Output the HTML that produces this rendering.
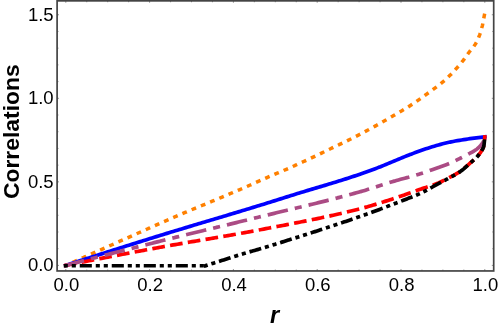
<!DOCTYPE html>
<html><head><meta charset="utf-8"><title>Correlations vs r</title>
<style>
html,body{margin:0;padding:0;background:#fff;}
body{width:498px;height:323px;overflow:hidden;font-family:"Liberation Sans",sans-serif;}
svg{display:block;will-change:transform;font-family:"Liberation Sans",sans-serif;}
</style></head><body>
<svg width="498" height="323" viewBox="0 0 498 323">
<rect x="0" y="0" width="498" height="323" fill="#ffffff"/>
<g>
<path d="M65.80,265.40 L67.90,264.46 L70.01,263.51 L72.11,262.57 L74.22,261.63 L76.32,260.69 L78.43,259.75 L80.53,258.80 L82.64,257.86 L84.74,256.92 L86.85,255.98 L88.95,255.04 L91.05,254.10 L93.16,253.16 L95.26,252.22 L97.37,251.28 L99.47,250.34 L101.58,249.40 L103.68,248.47 L105.79,247.53 L107.89,246.59 L109.99,245.65 L112.10,244.72 L114.20,243.78 L116.31,242.84 L118.41,241.91 L120.00,241.20 L120.52,240.97 L122.62,240.03 L124.73,239.09 L126.83,238.16 L128.94,237.22 L131.04,236.28 L133.14,235.34 L135.25,234.40 L137.35,233.46 L139.46,232.51 L141.56,231.57 L143.67,230.64 L145.77,229.70 L147.88,228.76 L149.98,227.82 L152.09,226.89 L154.19,225.95 L156.29,225.02 L158.40,224.09 L160.50,223.16 L162.61,222.23 L164.71,221.31 L166.82,220.39 L168.92,219.47 L171.03,218.55 L173.13,217.64 L175.24,216.73 L175.30,216.70 L177.34,215.82 L179.44,214.92 L181.55,214.02 L183.65,213.13 L185.76,212.24 L187.86,211.35 L189.97,210.47 L192.07,209.58 L193.70,208.90 L194.18,208.70 L196.28,207.82 L198.38,206.95 L200.49,206.08 L202.59,205.21 L204.70,204.35 L206.80,203.48 L208.91,202.61 L211.01,201.74 L212.30,201.20 L213.12,200.86 L215.22,199.98 L217.33,199.10 L219.43,198.22 L221.53,197.33 L223.64,196.45 L225.74,195.56 L227.85,194.67 L229.95,193.78 L230.60,193.50 L232.06,192.88 L234.16,191.98 L236.27,191.09 L238.37,190.18 L240.48,189.28 L242.58,188.38 L244.68,187.47 L246.79,186.55 L248.89,185.63 L249.20,185.50 L251.00,184.71 L253.10,183.77 L255.21,182.83 L257.31,181.88 L259.42,180.94 L261.52,179.99 L263.63,179.05 L265.73,178.12 L267.60,177.30 L267.83,177.20 L269.94,176.29 L272.04,175.39 L274.15,174.51 L276.25,173.62 L278.36,172.74 L280.46,171.85 L282.57,170.96 L284.67,170.05 L286.40,169.30 L286.77,169.14 L288.88,168.21 L290.98,167.27 L293.09,166.33 L295.19,165.38 L297.30,164.43 L299.40,163.47 L301.51,162.50 L303.61,161.53 L305.72,160.56 L307.82,159.58 L308.00,159.50 L309.92,158.60 L312.03,157.61 L314.13,156.61 L316.24,155.61 L318.34,154.60 L320.45,153.59 L322.55,152.58 L324.66,151.57 L326.76,150.55 L328.87,149.54 L330.00,149.00 L330.97,148.54 L333.07,147.54 L335.18,146.54 L337.28,145.55 L339.39,144.55 L341.49,143.55 L343.60,142.54 L345.70,141.52 L347.81,140.49 L349.91,139.44 L350.00,139.40 L352.02,138.38 L354.12,137.31 L356.22,136.23 L358.33,135.14 L360.43,134.04 L362.54,132.94 L364.64,131.82 L366.75,130.69 L368.85,129.56 L370.96,128.42 L373.06,127.27 L375.16,126.12 L376.10,125.60 L377.27,124.95 L379.37,123.77 L381.48,122.58 L383.58,121.37 L385.69,120.15 L387.79,118.93 L389.90,117.70 L392.00,116.47 L392.80,116.00 L394.11,115.24 L396.21,114.02 L398.31,112.80 L400.42,111.57 L402.52,110.34 L404.63,109.08 L406.73,107.81 L408.84,106.50 L410.40,105.50 L410.94,105.15 L413.05,103.76 L415.15,102.33 L417.26,100.87 L419.36,99.39 L421.46,97.88 L423.57,96.36 L425.67,94.84 L427.10,93.80 L427.78,93.31 L429.88,91.79 L431.99,90.27 L434.09,88.74 L436.20,87.18 L438.30,85.58 L440.41,83.93 L442.51,82.21 L443.00,81.80 L444.61,80.40 L446.72,78.48 L448.82,76.46 L450.20,75.10 L450.93,74.37 L453.03,72.17 L455.14,69.87 L456.90,67.90 L457.24,67.51 L459.35,65.11 L461.45,62.61 L463.30,60.30 L463.55,59.97 L465.66,57.07 L467.76,54.06 L468.90,52.50 L469.87,51.26 L471.97,48.77 L474.08,46.09 L475.20,44.40 L476.18,42.71 L478.29,38.36 L479.60,35.10 L480.39,32.84 L482.40,25.60 L482.50,25.20 L484.60,14.00" fill="none" stroke="#ff8000" stroke-width="3.5" stroke-dasharray="1.3 8.7" stroke-dashoffset="0.65" stroke-linecap="square" stroke-linejoin="round"/>
<path d="M65.80,265.40 L67.91,264.72 L70.01,264.03 L72.12,263.35 L74.22,262.67 L76.33,261.99 L78.43,261.31 L80.54,260.63 L82.64,259.95 L84.75,259.27 L86.86,258.59 L88.96,257.92 L91.07,257.24 L93.17,256.56 L95.28,255.89 L97.38,255.22 L99.49,254.54 L101.59,253.87 L103.70,253.20 L105.81,252.53 L107.91,251.86 L110.02,251.19 L112.12,250.52 L114.23,249.85 L116.33,249.18 L118.44,248.51 L120.54,247.85 L122.65,247.18 L124.75,246.52 L126.86,245.85 L128.97,245.19 L131.07,244.53 L133.18,243.87 L135.28,243.20 L137.39,242.54 L139.49,241.88 L141.60,241.23 L143.70,240.57 L145.81,239.91 L147.92,239.25 L150.02,238.60 L152.13,237.94 L154.23,237.29 L156.34,236.63 L158.44,235.98 L160.00,235.50 L160.55,235.33 L162.65,234.68 L164.76,234.03 L166.87,233.38 L168.97,232.74 L171.08,232.09 L173.18,231.45 L175.29,230.81 L177.39,230.17 L179.50,229.53 L181.60,228.90 L183.71,228.26 L185.82,227.63 L187.92,226.99 L190.03,226.36 L192.13,225.73 L194.24,225.09 L196.34,224.46 L198.45,223.83 L200.55,223.20 L202.66,222.57 L204.76,221.94 L206.87,221.31 L208.98,220.68 L211.08,220.06 L213.19,219.43 L215.29,218.80 L217.40,218.17 L219.50,217.54 L221.61,216.91 L223.71,216.28 L225.82,215.65 L227.93,215.02 L230.03,214.39 L232.14,213.76 L234.24,213.13 L236.35,212.49 L238.45,211.86 L240.56,211.22 L242.66,210.59 L244.77,209.95 L246.88,209.31 L248.98,208.67 L251.09,208.03 L253.19,207.39 L255.30,206.74 L257.40,206.10 L259.51,205.45 L260.00,205.30 L261.61,204.80 L263.72,204.15 L265.83,203.50 L267.93,202.84 L270.04,202.18 L272.14,201.52 L274.25,200.86 L276.35,200.20 L278.46,199.53 L280.56,198.87 L282.67,198.21 L284.77,197.54 L286.88,196.88 L288.99,196.22 L291.09,195.56 L293.20,194.91 L295.30,194.25 L297.41,193.60 L299.51,192.95 L300.00,192.80 L301.62,192.30 L303.72,191.66 L305.83,191.02 L307.94,190.39 L310.04,189.76 L312.15,189.13 L314.25,188.50 L316.36,187.87 L318.46,187.24 L320.57,186.62 L322.67,185.99 L324.78,185.36 L326.89,184.72 L328.99,184.09 L331.10,183.45 L333.20,182.81 L335.31,182.16 L337.41,181.51 L339.52,180.85 L340.00,180.70 L341.62,180.19 L343.73,179.52 L345.84,178.86 L347.94,178.19 L350.05,177.51 L352.15,176.82 L354.26,176.13 L356.36,175.43 L358.47,174.72 L360.00,174.20 L360.57,174.00 L362.68,173.27 L364.78,172.53 L366.89,171.78 L369.00,171.03 L371.10,170.26 L373.21,169.48 L375.31,168.69 L377.42,167.89 L379.52,167.08 L380.00,166.90 L381.63,166.26 L383.73,165.40 L385.84,164.53 L387.95,163.65 L390.00,162.80 L390.05,162.78 L392.16,161.91 L394.26,161.03 L396.37,160.15 L398.47,159.26 L400.58,158.38 L402.68,157.51 L404.79,156.65 L406.90,155.81 L409.00,154.98 L410.00,154.60 L411.11,154.18 L413.21,153.38 L415.32,152.59 L417.42,151.81 L419.53,151.04 L421.63,150.28 L423.74,149.55 L425.85,148.83 L427.95,148.14 L430.00,147.50 L430.06,147.48 L432.16,146.84 L434.27,146.21 L436.37,145.59 L438.48,144.98 L440.58,144.39 L442.69,143.83 L444.79,143.29 L446.90,142.79 L449.01,142.31 L450.00,142.10 L451.11,141.87 L453.22,141.45 L455.32,141.05 L457.43,140.67 L459.53,140.31 L461.64,139.96 L463.74,139.62 L465.85,139.30 L467.96,138.99 L470.00,138.70 L470.06,138.69 L472.17,138.40 L474.27,138.12 L476.38,137.85 L478.48,137.60 L480.59,137.35 L482.69,137.12 L484.80,136.90" fill="none" stroke="#0000ff" stroke-width="3.7" stroke-linecap="square" stroke-linejoin="round"/>
<path d="M65.80,265.40 L67.91,264.98 L70.01,264.56 L72.12,264.14 L74.22,263.72 L76.33,263.30 L78.43,262.88 L80.54,262.46 L82.64,262.05 L84.75,261.63 L86.86,261.22 L88.96,260.80 L91.07,260.39 L93.17,259.98 L95.28,259.56 L97.38,259.15 L99.49,258.74 L101.59,258.33 L103.70,257.92 L105.81,257.52 L107.91,257.11 L110.02,256.70 L112.12,256.30 L114.23,255.89 L116.33,255.49 L118.44,255.09 L120.54,254.68 L122.65,254.28 L124.75,253.88 L126.86,253.48 L128.97,253.08 L131.07,252.68 L133.18,252.29 L135.28,251.89 L137.39,251.49 L139.49,251.10 L141.60,250.71 L143.70,250.31 L145.81,249.92 L147.92,249.53 L150.02,249.14 L152.13,248.75 L154.23,248.36 L156.34,247.97 L158.44,247.59 L160.00,247.30 L160.55,247.20 L162.65,246.82 L164.76,246.43 L166.87,246.06 L168.97,245.68 L171.08,245.31 L173.18,244.94 L175.29,244.57 L177.39,244.20 L179.50,243.83 L181.60,243.47 L183.71,243.11 L185.82,242.74 L187.92,242.38 L190.03,242.02 L192.13,241.67 L194.24,241.31 L196.34,240.95 L198.45,240.60 L200.55,240.24 L202.66,239.88 L204.76,239.53 L206.87,239.17 L208.98,238.82 L211.08,238.46 L213.19,238.11 L215.29,237.75 L217.40,237.39 L219.50,237.03 L221.61,236.68 L223.71,236.32 L225.82,235.95 L227.93,235.59 L230.03,235.23 L232.14,234.86 L234.24,234.49 L236.35,234.12 L238.45,233.75 L240.56,233.38 L242.66,233.00 L244.77,232.62 L246.88,232.24 L248.98,231.86 L251.09,231.47 L253.19,231.08 L255.30,230.69 L257.40,230.29 L259.51,229.89 L260.00,229.80 L261.61,229.49 L263.72,229.09 L265.83,228.69 L267.93,228.29 L270.04,227.89 L272.14,227.49 L274.25,227.09 L276.35,226.69 L278.46,226.29 L280.56,225.89 L282.67,225.49 L284.77,225.08 L286.88,224.68 L288.99,224.28 L291.09,223.87 L293.20,223.46 L295.30,223.05 L297.41,222.64 L299.51,222.23 L301.62,221.81 L303.72,221.39 L305.83,220.97 L307.94,220.55 L310.04,220.13 L312.15,219.70 L314.25,219.26 L316.36,218.83 L318.46,218.39 L320.57,217.95 L322.67,217.50 L324.78,217.05 L326.89,216.60 L328.99,216.14 L331.10,215.68 L333.20,215.21 L335.31,214.74 L337.41,214.26 L339.52,213.78 L341.62,213.29 L343.73,212.80 L345.84,212.30 L347.94,211.80 L350.05,211.29 L352.15,210.78 L354.26,210.25 L356.36,209.73 L358.47,209.19 L360.00,208.80 L360.57,208.65 L362.68,208.10 L364.78,207.53 L366.89,206.94 L369.00,206.34 L371.10,205.73 L373.21,205.10 L375.31,204.46 L377.42,203.81 L379.52,203.16 L381.63,202.49 L383.73,201.81 L385.84,201.13 L387.95,200.44 L390.05,199.75 L392.16,199.05 L394.26,198.34 L396.37,197.64 L398.47,196.93 L400.58,196.22 L402.68,195.51 L404.50,194.90 L404.79,194.80 L406.90,194.08 L409.00,193.33 L411.11,192.57 L413.21,191.80 L415.32,191.03 L417.42,190.27 L419.53,189.52 L421.30,188.90 L421.63,188.79 L423.74,188.09 L425.85,187.43 L427.95,186.77 L430.06,186.11 L432.16,185.41 L434.27,184.65 L435.20,184.30 L436.37,183.83 L438.48,182.93 L440.58,181.97 L442.69,180.96 L444.79,179.92 L446.90,178.85 L447.20,178.70 L449.01,177.78 L451.11,176.70 L453.22,175.58 L455.32,174.42 L457.43,173.18 L459.53,171.85 L460.20,171.40 L461.64,170.37 L463.74,168.71 L465.85,166.91 L467.96,165.04 L470.06,163.17 L470.60,162.70 L472.17,161.36 L474.27,159.56 L476.38,157.55 L476.80,157.10 L478.48,155.18 L480.59,152.31 L481.10,151.50 L482.69,149.01 L484.00,145.30 L484.80,137.00" fill="none" stroke="#ff0000" stroke-width="3.7" stroke-dasharray="9 9" stroke-linecap="square" stroke-linejoin="round"/>
<path d="M65.80,265.40 L67.91,264.85 L70.01,264.29 L72.12,263.74 L74.22,263.19 L76.33,262.64 L78.43,262.09 L80.54,261.54 L82.64,260.99 L84.75,260.44 L86.86,259.89 L88.96,259.34 L91.07,258.79 L93.17,258.24 L95.28,257.70 L97.38,257.15 L99.49,256.61 L101.59,256.06 L103.70,255.52 L105.81,254.98 L107.91,254.43 L110.02,253.89 L112.12,253.35 L114.23,252.81 L116.33,252.27 L118.44,251.73 L120.54,251.19 L122.65,250.65 L124.75,250.11 L126.86,249.58 L128.97,249.04 L131.07,248.50 L133.18,247.97 L135.28,247.43 L137.39,246.90 L139.49,246.36 L141.60,245.83 L143.70,245.30 L145.81,244.77 L147.92,244.24 L150.02,243.71 L152.13,243.18 L154.23,242.65 L156.34,242.12 L158.44,241.59 L160.00,241.20 L160.55,241.06 L162.65,240.54 L164.76,240.01 L166.87,239.49 L168.97,238.97 L171.08,238.44 L173.18,237.93 L175.29,237.41 L177.39,236.89 L179.50,236.37 L181.60,235.86 L183.71,235.34 L185.82,234.83 L187.92,234.31 L190.03,233.80 L192.13,233.29 L194.24,232.77 L196.34,232.26 L198.45,231.75 L200.55,231.24 L202.66,230.73 L204.76,230.22 L206.87,229.71 L208.98,229.21 L211.08,228.70 L213.19,228.19 L215.29,227.68 L217.40,227.17 L219.50,226.66 L221.61,226.15 L223.71,225.64 L225.82,225.13 L227.93,224.63 L230.03,224.12 L232.14,223.61 L234.24,223.10 L236.35,222.58 L238.45,222.07 L240.56,221.56 L242.66,221.05 L244.77,220.54 L246.88,220.02 L248.98,219.51 L251.09,218.99 L253.19,218.48 L255.30,217.96 L257.40,217.44 L259.51,216.92 L260.00,216.80 L261.61,216.40 L263.72,215.88 L265.83,215.37 L267.93,214.86 L270.04,214.34 L272.14,213.83 L274.25,213.33 L276.35,212.82 L278.46,212.31 L280.56,211.81 L282.67,211.30 L284.77,210.80 L286.88,210.29 L288.99,209.79 L291.09,209.29 L293.20,208.78 L295.30,208.28 L297.41,207.78 L299.51,207.27 L301.62,206.77 L303.72,206.26 L305.83,205.75 L307.94,205.24 L310.04,204.73 L312.15,204.22 L314.25,203.71 L316.36,203.19 L318.46,202.67 L320.57,202.15 L322.67,201.63 L324.78,201.11 L326.89,200.58 L328.99,200.05 L331.10,199.52 L333.20,198.98 L335.31,198.44 L337.41,197.90 L339.52,197.35 L341.62,196.80 L343.73,196.24 L345.84,195.68 L347.94,195.12 L350.05,194.55 L352.15,193.98 L354.26,193.40 L356.36,192.82 L358.47,192.23 L360.00,191.80 L360.57,191.64 L362.68,191.03 L364.78,190.40 L366.89,189.76 L369.00,189.11 L371.10,188.45 L373.21,187.78 L375.31,187.10 L377.42,186.42 L379.52,185.74 L381.63,185.06 L383.73,184.38 L385.84,183.71 L387.95,183.05 L390.05,182.39 L392.16,181.75 L394.26,181.12 L395.00,180.90 L396.37,180.50 L398.47,179.91 L400.58,179.33 L402.68,178.77 L404.79,178.20 L406.90,177.64 L409.00,177.08 L411.11,176.51 L413.21,175.93 L415.32,175.33 L417.42,174.71 L419.10,174.20 L419.53,174.07 L421.63,173.39 L423.74,172.69 L425.85,171.97 L427.95,171.23 L430.06,170.48 L432.16,169.72 L434.27,168.96 L436.37,168.20 L438.48,167.44 L438.60,167.40 L440.58,166.71 L442.69,165.97 L444.79,165.22 L446.90,164.42 L447.20,164.30 L449.01,163.56 L451.11,162.65 L453.22,161.70 L455.32,160.71 L457.43,159.70 L459.53,158.67 L461.30,157.80 L461.64,157.63 L463.74,156.57 L465.85,155.47 L467.96,154.34 L470.00,153.20 L470.06,153.17 L472.17,152.02 L474.27,150.83 L476.38,149.42 L476.80,149.10 L478.48,147.73 L480.59,145.64 L482.69,142.72 L483.00,142.20 L484.80,137.00" fill="none" stroke="#ab4b84" stroke-width="3.7" stroke-dasharray="17 10.8 3.4 10.8" stroke-linecap="square" stroke-linejoin="round"/>
<path d="M65.60,265.75 L205.50,265.75" fill="none" stroke="#000000" stroke-width="3.7" stroke-dasharray="0.4 7.6 0.4 7.6 8.4 7.6" stroke-linecap="square"/>
<path d="M205.50,265.75 L206.90,265.29 L208.31,264.84 L209.71,264.38 L211.11,263.93 L212.52,263.48 L213.92,263.03 L214.00,263.00 L215.32,262.58 L216.73,262.13 L218.13,261.68 L219.54,261.24 L220.94,260.79 L222.34,260.34 L223.75,259.90 L225.00,259.50 L225.15,259.45 L226.55,259.01 L227.96,258.56 L229.36,258.11 L230.76,257.66 L232.17,257.21 L233.57,256.77 L234.97,256.32 L236.00,256.00 L236.38,255.88 L237.78,255.44 L239.18,255.00 L240.59,254.56 L241.99,254.12 L243.39,253.69 L244.80,253.26 L245.00,253.20 L246.20,252.84 L247.61,252.43 L249.01,252.03 L250.41,251.63 L251.82,251.24 L253.22,250.84 L254.62,250.45 L256.03,250.05 L257.43,249.65 L258.83,249.24 L260.00,248.90 L260.24,248.83 L261.64,248.41 L263.04,247.99 L264.45,247.57 L265.85,247.14 L267.25,246.71 L268.66,246.28 L270.06,245.84 L271.47,245.41 L272.87,244.97 L274.27,244.53 L275.00,244.30 L275.68,244.09 L277.08,243.65 L278.48,243.21 L279.89,242.76 L281.29,242.32 L282.69,241.88 L284.10,241.44 L285.50,241.00 L286.90,240.56 L288.31,240.11 L289.71,239.67 L291.11,239.23 L292.52,238.78 L293.92,238.34 L295.33,237.90 L296.73,237.45 L298.13,237.01 L299.54,236.56 L300.94,236.11 L302.34,235.67 L303.75,235.22 L305.15,234.77 L306.55,234.32 L307.96,233.87 L309.36,233.42 L310.76,232.97 L312.17,232.52 L313.57,232.07 L314.97,231.62 L316.38,231.16 L317.78,230.71 L319.18,230.25 L320.59,229.80 L321.99,229.34 L323.40,228.88 L324.80,228.42 L326.20,227.96 L327.61,227.50 L329.01,227.04 L330.41,226.57 L331.82,226.11 L333.22,225.64 L334.62,225.18 L336.03,224.71 L337.43,224.24 L338.83,223.77 L340.24,223.30 L341.64,222.82 L343.04,222.35 L344.45,221.87 L345.85,221.40 L347.26,220.92 L348.66,220.44 L350.06,219.96 L351.47,219.47 L352.87,218.99 L354.27,218.50 L355.68,218.01 L357.08,217.52 L358.48,217.03 L359.89,216.54 L360.00,216.50 L361.29,216.04 L362.69,215.55 L364.10,215.05 L365.50,214.54 L366.90,214.04 L368.31,213.53 L369.71,213.02 L371.12,212.51 L372.52,211.99 L373.92,211.48 L375.33,210.96 L376.73,210.44 L378.13,209.91 L379.54,209.39 L380.94,208.86 L382.34,208.33 L383.75,207.80 L385.15,207.27 L386.55,206.74 L387.96,206.21 L389.36,205.67 L390.76,205.13 L392.17,204.60 L393.57,204.06 L394.97,203.52 L396.38,202.98 L397.78,202.44 L399.19,201.89 L400.59,201.35 L401.99,200.81 L403.40,200.26 L404.80,199.72 L406.20,199.17 L406.90,198.90 L407.61,198.63 L409.01,198.09 L410.41,197.55 L411.82,197.00 L413.22,196.45 L414.62,195.89 L416.03,195.32 L417.43,194.72 L417.70,194.60 L418.83,194.09 L420.24,193.45 L421.64,192.78 L423.05,192.09 L424.45,191.38 L425.20,191.00 L425.85,190.66 L427.26,189.91 L428.66,189.13 L430.06,188.34 L431.47,187.54 L432.87,186.74 L434.27,185.95 L435.68,185.17 L435.80,185.10 L437.08,184.41 L438.48,183.65 L439.89,182.91 L441.29,182.17 L442.69,181.43 L444.10,180.68 L445.50,179.93 L446.91,179.16 L447.20,179.00 L448.31,178.40 L449.71,177.65 L451.12,176.90 L452.52,176.16 L453.92,175.40 L455.33,174.62 L456.73,173.81 L458.13,172.96 L459.54,172.05 L460.20,171.60 L460.94,171.07 L462.34,170.00 L463.75,168.84 L465.15,167.62 L466.55,166.36 L467.96,165.08 L469.36,163.81 L470.60,162.70 L470.76,162.56 L472.17,161.35 L473.57,160.16 L474.98,158.92 L476.38,157.55 L476.80,157.10 L477.78,156.01 L479.19,154.30 L480.59,152.31 L481.10,151.50 L481.99,150.17 L483.40,147.36 L484.00,145.30 L484.80,137.00" fill="none" stroke="#000000" stroke-width="3.7" stroke-dasharray="0.4 7.6 0.4 7.6 8.4 7.6" stroke-linecap="square" stroke-linejoin="round"/>
</g>
<g stroke="#4d4d4d" stroke-width="0.6"><line x1="65.80" y1="270.95" x2="65.80" y2="269.05"/><line x1="65.80" y1="0.85" x2="65.80" y2="2.75"/><line x1="86.75" y1="270.95" x2="86.75" y2="269.55"/><line x1="86.75" y1="0.85" x2="86.75" y2="2.25"/><line x1="107.70" y1="270.95" x2="107.70" y2="269.55"/><line x1="107.70" y1="0.85" x2="107.70" y2="2.25"/><line x1="128.65" y1="270.95" x2="128.65" y2="269.55"/><line x1="128.65" y1="0.85" x2="128.65" y2="2.25"/><line x1="149.60" y1="270.95" x2="149.60" y2="269.05"/><line x1="149.60" y1="0.85" x2="149.60" y2="2.75"/><line x1="170.55" y1="270.95" x2="170.55" y2="269.55"/><line x1="170.55" y1="0.85" x2="170.55" y2="2.25"/><line x1="191.50" y1="270.95" x2="191.50" y2="269.55"/><line x1="191.50" y1="0.85" x2="191.50" y2="2.25"/><line x1="212.45" y1="270.95" x2="212.45" y2="269.55"/><line x1="212.45" y1="0.85" x2="212.45" y2="2.25"/><line x1="233.40" y1="270.95" x2="233.40" y2="269.05"/><line x1="233.40" y1="0.85" x2="233.40" y2="2.75"/><line x1="254.35" y1="270.95" x2="254.35" y2="269.55"/><line x1="254.35" y1="0.85" x2="254.35" y2="2.25"/><line x1="275.30" y1="270.95" x2="275.30" y2="269.55"/><line x1="275.30" y1="0.85" x2="275.30" y2="2.25"/><line x1="296.25" y1="270.95" x2="296.25" y2="269.55"/><line x1="296.25" y1="0.85" x2="296.25" y2="2.25"/><line x1="317.20" y1="270.95" x2="317.20" y2="269.05"/><line x1="317.20" y1="0.85" x2="317.20" y2="2.75"/><line x1="338.15" y1="270.95" x2="338.15" y2="269.55"/><line x1="338.15" y1="0.85" x2="338.15" y2="2.25"/><line x1="359.10" y1="270.95" x2="359.10" y2="269.55"/><line x1="359.10" y1="0.85" x2="359.10" y2="2.25"/><line x1="380.05" y1="270.95" x2="380.05" y2="269.55"/><line x1="380.05" y1="0.85" x2="380.05" y2="2.25"/><line x1="401.00" y1="270.95" x2="401.00" y2="269.05"/><line x1="401.00" y1="0.85" x2="401.00" y2="2.75"/><line x1="421.95" y1="270.95" x2="421.95" y2="269.55"/><line x1="421.95" y1="0.85" x2="421.95" y2="2.25"/><line x1="442.90" y1="270.95" x2="442.90" y2="269.55"/><line x1="442.90" y1="0.85" x2="442.90" y2="2.25"/><line x1="463.85" y1="270.95" x2="463.85" y2="269.55"/><line x1="463.85" y1="0.85" x2="463.85" y2="2.25"/><line x1="484.80" y1="270.95" x2="484.80" y2="269.05"/><line x1="484.80" y1="0.85" x2="484.80" y2="2.75"/><line x1="57.1" y1="265.40" x2="59.0" y2="265.40"/><line x1="493.7" y1="265.40" x2="491.8" y2="265.40"/><line x1="57.1" y1="248.69" x2="58.5" y2="248.69"/><line x1="493.7" y1="248.69" x2="492.3" y2="248.69"/><line x1="57.1" y1="231.98" x2="58.5" y2="231.98"/><line x1="493.7" y1="231.98" x2="492.3" y2="231.98"/><line x1="57.1" y1="215.27" x2="58.5" y2="215.27"/><line x1="493.7" y1="215.27" x2="492.3" y2="215.27"/><line x1="57.1" y1="198.56" x2="58.5" y2="198.56"/><line x1="493.7" y1="198.56" x2="492.3" y2="198.56"/><line x1="57.1" y1="181.85" x2="59.0" y2="181.85"/><line x1="493.7" y1="181.85" x2="491.8" y2="181.85"/><line x1="57.1" y1="165.14" x2="58.5" y2="165.14"/><line x1="493.7" y1="165.14" x2="492.3" y2="165.14"/><line x1="57.1" y1="148.43" x2="58.5" y2="148.43"/><line x1="493.7" y1="148.43" x2="492.3" y2="148.43"/><line x1="57.1" y1="131.72" x2="58.5" y2="131.72"/><line x1="493.7" y1="131.72" x2="492.3" y2="131.72"/><line x1="57.1" y1="115.01" x2="58.5" y2="115.01"/><line x1="493.7" y1="115.01" x2="492.3" y2="115.01"/><line x1="57.1" y1="98.30" x2="59.0" y2="98.30"/><line x1="493.7" y1="98.30" x2="491.8" y2="98.30"/><line x1="57.1" y1="81.59" x2="58.5" y2="81.59"/><line x1="493.7" y1="81.59" x2="492.3" y2="81.59"/><line x1="57.1" y1="64.88" x2="58.5" y2="64.88"/><line x1="493.7" y1="64.88" x2="492.3" y2="64.88"/><line x1="57.1" y1="48.17" x2="58.5" y2="48.17"/><line x1="493.7" y1="48.17" x2="492.3" y2="48.17"/><line x1="57.1" y1="31.46" x2="58.5" y2="31.46"/><line x1="493.7" y1="31.46" x2="492.3" y2="31.46"/><line x1="57.1" y1="14.75" x2="59.0" y2="14.75"/><line x1="493.7" y1="14.75" x2="491.8" y2="14.75"/></g>
<rect x="57.1" y="0.85" width="436.59999999999997" height="270.09999999999997" fill="none" stroke="#444444" stroke-width="1.7"/>
<g font-size="18.5px" fill="#000"><text x="66.4" y="291.3" text-anchor="middle">0.0</text><text x="150.2" y="291.3" text-anchor="middle">0.2</text><text x="234.0" y="291.3" text-anchor="middle">0.4</text><text x="317.8" y="291.3" text-anchor="middle">0.6</text><text x="401.6" y="291.3" text-anchor="middle">0.8</text><text x="485.4" y="291.3" text-anchor="middle">1.0</text><text x="53.6" y="271.2" text-anchor="end">0.0</text><text x="53.6" y="187.6" text-anchor="end">0.5</text><text x="53.6" y="104.1" text-anchor="end">1.0</text><text x="53.6" y="20.6" text-anchor="end">1.5</text></g>
<text transform="translate(18.8,199.1) rotate(-90)" font-size="22.9px" font-weight="bold" fill="#000">Correlations</text>
<text x="270.0" y="323" font-size="23.6px" font-weight="bold" font-style="italic" fill="#000">r</text>
</svg>
</body></html>
